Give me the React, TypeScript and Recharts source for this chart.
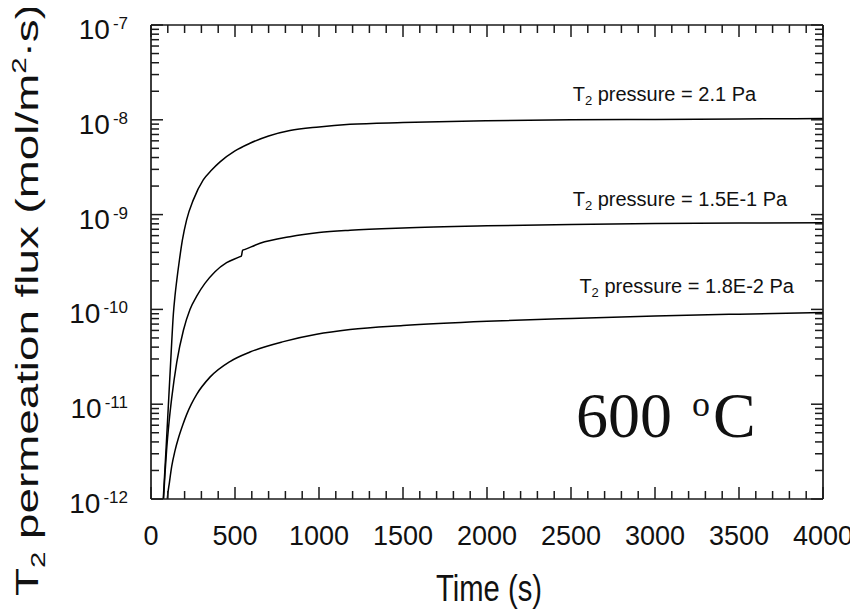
import React from 'react';
import { LineChart, Line, XAxis, YAxis, ReferenceDot, Label } from 'recharts';

// T2 pressure = 2.1 Pa
const time21 = [70, 73, 90, 105, 120, 133, 143, 153, 169, 187, 212, 252, 311, 361, 411, 500, 589, 700, 827, 1000, 1185, 1500, 2000, 2500, 3000, 3500, 4000];
const flux21 = [8e-13, 1.0e-12, 3.5e-12, 1.1e-11, 3.5e-11, 8.9e-11, 1.4e-10, 2.0e-10, 3.3e-10, 5.4e-10, 8.8e-10, 1.43e-9, 2.32e-9, 2.95e-9, 3.6e-9, 4.7e-9, 5.65e-9, 6.75e-9, 7.7e-9, 8.4e-9, 8.95e-9, 9.35e-9, 9.75e-9, 1.0e-8, 1.01e-8, 1.02e-8, 1.03e-8];

// T2 pressure = 1.5E-1 Pa (small jump near 540 s)
const time15 = [73, 83, 93, 108, 123, 153, 193, 232, 272, 321, 381, 450, 530, 538, 545, 560, 649, 827, 1000, 1185, 1500, 2000, 2500, 3000, 3500, 4000];
const flux15 = [8.9e-13, 1.82e-12, 3.31e-12, 6.61e-12, 1.15e-11, 2.75e-11, 6.03e-11, 1.0e-10, 1.38e-10, 1.88e-10, 2.5e-10, 3.11e-10, 3.6e-10, 3.66e-10, 4.2e-10, 4.3e-10, 4.98e-10, 5.85e-10, 6.46e-10, 6.84e-10, 7.24e-10, 7.62e-10, 7.87e-10, 8.04e-10, 8.15e-10, 8.22e-10];

// T2 pressure = 1.8E-2 Pa
const time18 = [95, 97, 110, 123, 143, 163, 190, 212, 240, 272, 351, 470, 589, 788, 986, 1185, 1500, 2000, 2500, 3000, 3500, 4000];
const flux18 = [9e-13, 1.0e-12, 1.51e-12, 2.19e-12, 3.24e-12, 4.37e-12, 6.1e-12, 7.76e-12, 1.0e-11, 1.27e-11, 1.93e-11, 2.82e-11, 3.55e-11, 4.57e-11, 5.46e-11, 6.12e-11, 6.76e-11, 7.5e-11, 8.04e-11, 8.51e-11, 8.91e-11, 9.29e-11];

// curve annotations (anchored at data coordinates)
const curveLabels = ['2.1 Pa', '1.5E-1 Pa', '1.8E-2 Pa'];
const curveLabelTime = [2510, 2510, 2550];
const curveLabelFlux = [1.58e-8, 1.24e-9, 1.49e-10];
const tempLabel = { time: 2530, flux: 4.5e-12 };

// axes
const xMajorTicks = [0, 500, 1000, 1500, 2000, 2500, 3000, 3500, 4000];
const xMinorStep = 100;
const yDecades = [1e-12, 1e-11, 1e-10, 1e-9, 1e-8, 1e-7];
const yMinorFactors = [2, 3, 4, 5, 6, 7, 8, 9];

const xTicks: number[] = [];
for (let t = 0; t <= 4000; t += xMinorStep) xTicks.push(t);
const yTicks: number[] = [...yDecades];
yDecades.slice(0, -1).forEach((d) => yMinorFactors.forEach((f) => yTicks.push(f * d)));
yTicks.sort((a, b) => a - b);

const zip = (ts: number[], vs: number[]) => ts.map((t, i) => ({ t, v: vs[i] }));
const series21 = zip(time21, flux21);
const series15 = zip(time15, flux15);
const series18 = zip(time18, flux18);

const SANS = "'Liberation Sans', Arial, Helvetica, sans-serif";
const SERIF = "'Liberation Serif', 'Times New Roman', serif";
const INK = '#111';
const FRAME = { stroke: '#1a1a1a', strokeWidth: 1.7 };
const TICK = { stroke: '#1a1a1a', strokeWidth: 1.5 };
const MAJOR = 12;
const MINOR = 8;

const isMajorX = (v: number) => xMajorTicks.includes(v);
const isMajorY = (v: number) => yDecades.includes(v);

const BottomTick = ({ x, y, payload }: any) => {
  const major = isMajorX(payload.value);
  return (
    <g>
      <line x1={x} x2={x} y1={y} y2={y - (major ? MAJOR : MINOR)} {...TICK} />
      {major && (
        <text x={x} y={y + 46} textAnchor="middle" fontFamily={SANS} fontSize={27} fill={INK}>
          {payload.value}
        </text>
      )}
    </g>
  );
};

const TopTick = ({ x, y, payload }: any) => {
  const major = isMajorX(payload.value);
  return <line x1={x} x2={x} y1={y} y2={y + (major ? MAJOR : MINOR)} {...TICK} />;
};

const LeftTick = ({ x, y, payload }: any) => {
  const major = isMajorY(payload.value);
  const exp = Math.round(Math.log10(payload.value));
  return (
    <g>
      <line x1={x} x2={x + (major ? MAJOR : MINOR)} y1={y} y2={y} {...TICK} />
      {major && (
        <text x={x - 23} y={y + 14} textAnchor="end" fontFamily={SANS} fontSize={28} fill={INK}>
          10
          <tspan dx={3} dy={-10} fontSize={17}>
            {`${exp}`}
          </tspan>
        </text>
      )}
    </g>
  );
};

const RightTick = ({ x, y, payload }: any) => {
  const major = isMajorY(payload.value);
  return <line x1={x} x2={x - (major ? MAJOR : MINOR)} y1={y} y2={y} {...TICK} />;
};

const YTitle = ({ viewBox }: any) => {
  const cx = viewBox.x + 30;
  const cy = viewBox.y + viewBox.height / 2 + 38;
  return (
    <text
      x={cx}
      y={cy}
      transform={`rotate(-90, ${cx}, ${cy})`}
      textAnchor="middle"
      fontFamily={SANS}
      fontSize={31}
      fill={INK}
      textLength={592}
      lengthAdjust="spacingAndGlyphs"
    >
      T<tspan dy={7} fontSize={20}>2</tspan>
      <tspan dy={-7}> permeation flux (mol/m</tspan>
      <tspan dy={-12} fontSize={20}>2</tspan>
      <tspan dy={12}>·s)</tspan>
    </text>
  );
};

const XTitle = ({ viewBox }: any) => (
  <text
    x={viewBox.x + viewBox.width / 2 + 2}
    y={viewBox.y + 102}
    textAnchor="middle"
    fontFamily={SANS}
    fontSize={37}
    fill={INK}
    textLength={106}
    lengthAdjust="spacingAndGlyphs"
  >
    Time (s)
  </text>
);

const PressureLabel = ({ cx, cy, text }: any) => (
  <text x={cx} y={cy} fontFamily={SANS} fontSize={20} fill={INK}>
    T<tspan dy={4} fontSize={13}>2</tspan>
    <tspan dy={-4}>{` pressure = ${text}`}</tspan>
  </text>
);

const TempLabel = ({ cx, cy }: any) => (
  <text x={cx} y={cy} fontFamily={SERIF} fontSize={64} fill={INK}>
    {'600 '}
    <tspan dx={4} dy={-21} fontSize={36}>o</tspan>
    <tspan dx={3} dy={21}>C</tspan>
  </text>
);

export default function App() {
  return (
    <div style={{ width: 850, height: 608, background: '#fff' }}>
      <LineChart width={850} height={608} margin={{ top: 0, right: 0, bottom: 0, left: 0 }}>
        <XAxis
          dataKey="t"
          type="number"
          domain={[0, 4000]}
          allowDataOverflow
          ticks={xTicks}
          interval={0}
          height={117}
          tickSize={0}
          tickMargin={0}
          tickLine={false}
          axisLine={FRAME}
          tick={(p: any) => <BottomTick {...p} />}
        >
          <Label content={XTitle} />
        </XAxis>
        <XAxis
          xAxisId="top"
          orientation="top"
          dataKey="t"
          type="number"
          domain={[0, 4000]}
          allowDataOverflow
          ticks={xTicks}
          interval={0}
          height={17}
          tickSize={0}
          tickMargin={0}
          tickLine={false}
          axisLine={FRAME}
          tick={(p: any) => <TopTick {...p} />}
        />
        <YAxis
          scale="log"
          type="number"
          domain={[1e-12, 1e-7]}
          allowDataOverflow
          ticks={yTicks}
          interval={0}
          width={143}
          tickSize={0}
          tickMargin={0}
          tickLine={false}
          axisLine={FRAME}
          tick={(p: any) => <LeftTick {...p} />}
        >
          <Label content={YTitle} />
        </YAxis>
        <YAxis
          yAxisId="right"
          orientation="right"
          scale="log"
          type="number"
          domain={[1e-12, 1e-7]}
          allowDataOverflow
          ticks={yTicks}
          interval={0}
          width={35}
          tickSize={0}
          tickMargin={0}
          tickLine={false}
          axisLine={FRAME}
          tick={(p: any) => <RightTick {...p} />}
        />
        <Line data={series21} dataKey="v" type="monotone" stroke="#000" strokeWidth={1.5} dot={false} activeDot={false} isAnimationActive={false} />
        <Line data={series15} dataKey="v" type="monotone" stroke="#000" strokeWidth={1.5} dot={false} activeDot={false} isAnimationActive={false} />
        <Line data={series18} dataKey="v" type="monotone" stroke="#000" strokeWidth={1.5} dot={false} activeDot={false} isAnimationActive={false} />
        {curveLabels.map((text, i) => (
          <ReferenceDot
            key={text}
            x={curveLabelTime[i]}
            y={curveLabelFlux[i]}
            r={0}
            shape={(p: any) => <PressureLabel {...p} text={text} />}
          />
        ))}
        <ReferenceDot x={tempLabel.time} y={tempLabel.flux} r={0} shape={(p: any) => <TempLabel {...p} />} />
      </LineChart>
    </div>
  );
}
